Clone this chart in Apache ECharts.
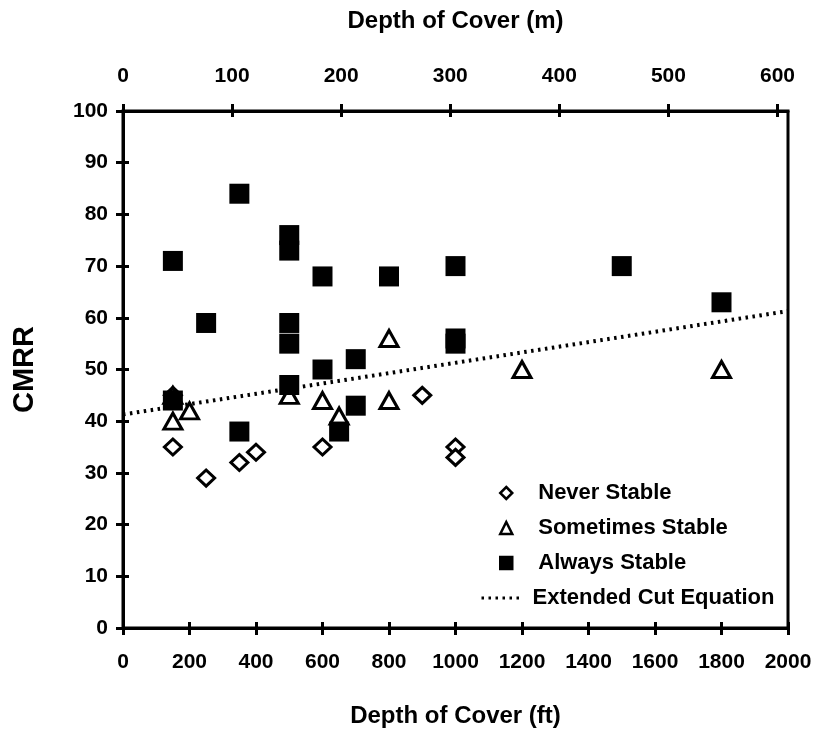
<!DOCTYPE html>
<html>
<head>
<meta charset="utf-8">
<script src="https://cdn.jsdelivr.net/npm/echarts@6/dist/echarts.min.js"></script>
<style>
html,body{margin:0;padding:0;background:#fff;}
#chart{width:819px;height:733px;}
</style>
</head>
<body>
<div id="chart"></div>
<script>
// ---- data ----
const neverStable = [[150,35],[150,45],[250,29],[350,32],[400,34],[600,35],[900,45],[1000,35],[1000,33]];
const sometimesStable = [[150,40],[150,45],[200,42],[500,45],[600,44],[650,41],[800,44],[800,56],[1200,50],[1800,50]];
const alwaysStable = [[150,71],[150,44],[250,59],[350,84],[350,38],[500,76],[500,73],[500,59],[500,55],[500,47],[600,68],[600,50],[650,38],[700,52],[700,43],[800,68],[1000,70],[1000,56],[1000,55],[1500,70],[1800,63]];
const cutEquation = [[0,41.3],[2000,61.3]];
const topTicksM = [0,100,200,300,400,500,600];
const seriesNames = ['Never Stable','Sometimes Stable','Always Stable','Extended Cut Equation'];
const FT_MAX = 2000;
const M_MAX = FT_MAX * 0.3048;

const FONT = '"Liberation Sans", Arial, Helvetica, sans-serif';
const plain = v => String(v);
const lbl = {color:'#000', fontFamily:FONT, fontSize:21, fontWeight:'bold', formatter:plain};
const ttl = {color:'#000', fontFamily:FONT, fontSize:24, fontWeight:'bold'};
const legendText = {color:'#000', fontFamily:FONT, fontSize:22, fontWeight:'bold', lineHeight:24};

const chart = echarts.init(document.getElementById('chart'), null, {renderer:'canvas'});
chart.setOption({
  backgroundColor:'#fff',
  animation:false,
  grid:{left:123, right:31, top:111, bottom:104, show:true, borderColor:'#000', borderWidth:3, backgroundColor:'transparent'},
  legend:[
    {orient:'vertical', left:499, top:481, padding:0, itemWidth:12, itemHeight:12, itemGap:11,
     data:seriesNames.slice(0,3),
     itemStyle:{borderWidth:2.5},
     textStyle:Object.assign({padding:[0,0,0,21]}, legendText)},
    {orient:'vertical', left:480, top:586, padding:0, itemWidth:40, itemHeight:14, itemGap:11,
     data:[{name:seriesNames[3], itemStyle:{color:'rgba(0,0,0,0)', borderColor:'rgba(0,0,0,0)', borderWidth:0}}],
     lineStyle:{width:3},
     textStyle:Object.assign({padding:[0,0,0,6]}, legendText)}
  ],
  xAxis:[
    {type:'value', position:'bottom', min:0, max:FT_MAX, interval:200,
     name:'Depth of Cover (ft)', nameLocation:'middle', nameGap:76, nameTextStyle:ttl,
     axisLine:{show:true, onZero:false, lineStyle:{color:'#000', width:3}},
     axisTick:{show:true, length:7, lineStyle:{color:'#000', width:3}},
     axisLabel:Object.assign({margin:24}, lbl), splitLine:{show:false}},
    {type:'value', position:'top', min:0, max:M_MAX,
     name:'Depth of Cover (m)', nameLocation:'middle', nameGap:78, nameTextStyle:ttl,
     axisLine:{show:true, onZero:false, lineStyle:{color:'#000', width:3}},
     axisTick:{show:true, length:7, customValues:topTicksM, lineStyle:{color:'#000', width:3}},
     axisLabel:Object.assign({margin:24, customValues:topTicksM}, lbl), splitLine:{show:false}},
    {type:'value', position:'bottom', min:0, max:FT_MAX, interval:200,
     axisLine:{show:false, onZero:false}, axisLabel:{show:false}, splitLine:{show:false},
     axisTick:{show:true, inside:true, length:6, lineStyle:{color:'#000', width:3}}},
    {type:'value', position:'top', min:0, max:M_MAX,
     axisLine:{show:false, onZero:false}, axisLabel:{show:false}, splitLine:{show:false},
     axisTick:{show:true, inside:true, length:6, customValues:topTicksM, lineStyle:{color:'#000', width:3}}}
  ],
  yAxis:[
    {type:'value', position:'left', min:0, max:100, interval:10,
     name:'CMRR', nameLocation:'middle', nameGap:84, nameRotate:90,
     nameTextStyle:{color:'#000', fontFamily:FONT, fontSize:29, fontWeight:'bold'},
     axisLine:{show:true, onZero:false, lineStyle:{color:'#000', width:3}},
     axisTick:{show:true, length:7, lineStyle:{color:'#000', width:3}},
     axisLabel:Object.assign({margin:15}, lbl), splitLine:{show:false}},
    {type:'value', position:'left', min:0, max:100, interval:10,
     axisLine:{show:false, onZero:false}, axisLabel:{show:false}, splitLine:{show:false},
     axisTick:{show:true, inside:true, length:6, lineStyle:{color:'#000', width:3}}}
  ],
  series:[
    {name:seriesNames[0], type:'scatter', data:neverStable, symbol:'diamond', symbolSize:[17,16], z:2,
     itemStyle:{color:'#fff', borderColor:'#000', borderWidth:3, opacity:1}},
    {name:seriesNames[1], type:'scatter', data:sometimesStable, symbol:'triangle', symbolSize:[18,16], z:3,
     itemStyle:{color:'#fff', borderColor:'#000', borderWidth:3, opacity:1}},
    {name:seriesNames[3], type:'line', data:cutEquation, symbol:'none', z:4,
     lineStyle:{color:'#000', width:4, type:[2.5,4.5]}, itemStyle:{color:'#000'}},
    {name:seriesNames[2], type:'scatter', data:alwaysStable, symbol:'rect', symbolSize:20, z:5,
     itemStyle:{color:'#000', borderColor:'#000', borderWidth:0, opacity:1}}
  ]
});
</script>
</body>
</html>
